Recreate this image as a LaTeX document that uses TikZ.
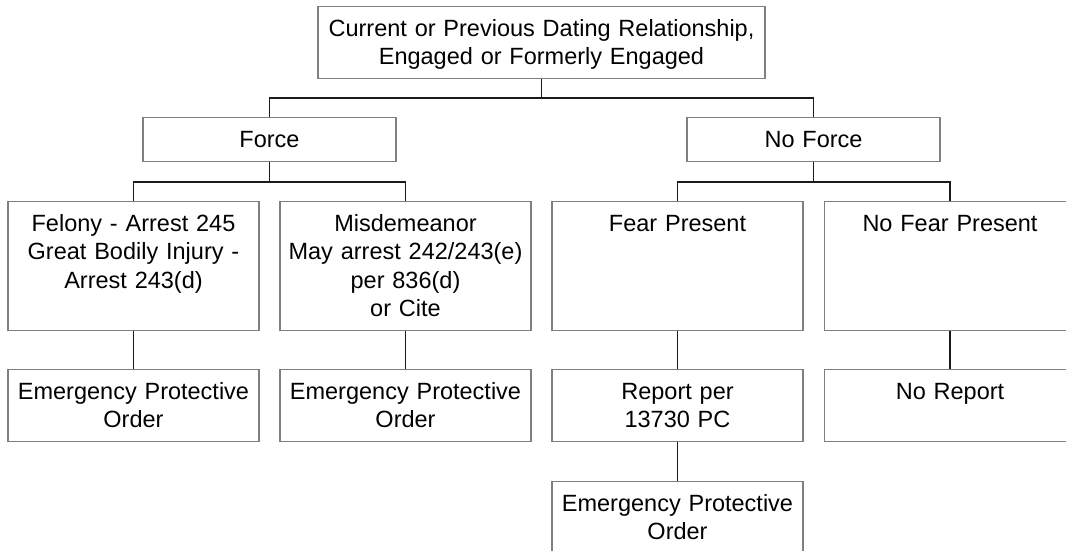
\documentclass[tikz,border=0pt]{standalone}
\usepackage{fontspec}
\setmainfont{Liberation Sans}
\definecolor{boxgray}{HTML}{808080}
\definecolor{linecol}{HTML}{1A1A1A}
\begin{document}
\begin{tikzpicture}[x=1pt,y=-1pt,
  box/.style={draw=boxgray, line width=1.1pt, inner sep=0pt, align=center,
    font=\fontsize{23.5}{28.5}\selectfont, text height=29.5pt, anchor=north},
  widebox/.style={box, text width=447pt, text depth=42.5pt},
  midbox/.style={box, text width=253pt, text depth=14.5pt},
  tallbox/.style={box, text width=251pt, text depth=99.5pt},
  shortbox/.style={box, text width=251pt, text depth=42.5pt},
  conn/.style={draw=linecol, line width=1.3pt}]
\clip (0,0) rectangle (1066,550);
\node[widebox] (top) at (541.5,6) {Current or Previous Dating Relationship,\\Engaged or Formerly Engaged};
\node[midbox] (force) at (269.5,117) {Force};
\node[midbox] (noforce) at (813.5,117) {No Force};
\node[tallbox] (fel) at (133.5,201) {Felony - Arrest 245\\Great Bodily Injury -\\Arrest 243(d)};
\node[tallbox] (mis) at (405.5,201) {Misdemeanor\\May arrest 242/243(e)\\per 836(d)\\or Cite};
\node[tallbox] (fear) at (677.5,201) {Fear Present};
\node[tallbox] (nofear) at (950,201) {No Fear Present};
\node[shortbox] (epo1) at (133.5,369) {Emergency Protective\\Order};
\node[shortbox] (epo2) at (405.5,369) {Emergency Protective\\Order};
\node[shortbox] (rep) at (677.5,369) {Report per\\13730 PC};
\node[shortbox] (norep) at (950,369) {No Report};
\node[shortbox] (epo3) at (677.5,481) {Emergency Protective\\Order};
\draw[conn] (top.south) -- ++(0,19) -| (force.north);
\draw[conn] (top.south) -- ++(0,19) -| (noforce.north);
\draw[conn] (force.south) -- ++(0,20) -| (fel.north);
\draw[conn] (force.south) -- ++(0,20) -| (mis.north);
\draw[conn] (noforce.south) -- ++(0,20) -| (fear.north);
\draw[conn] (noforce.south) -- ++(0,20) -| (nofear.north);
\draw[conn] (fel.south) -- (epo1.north);
\draw[conn] (mis.south) -- (epo2.north);
\draw[conn] (fear.south) -- (rep.north);
\draw[conn] (nofear.south) -- (norep.north);
\draw[conn] (rep.south) -- (epo3.north);
\end{tikzpicture}
\end{document}
